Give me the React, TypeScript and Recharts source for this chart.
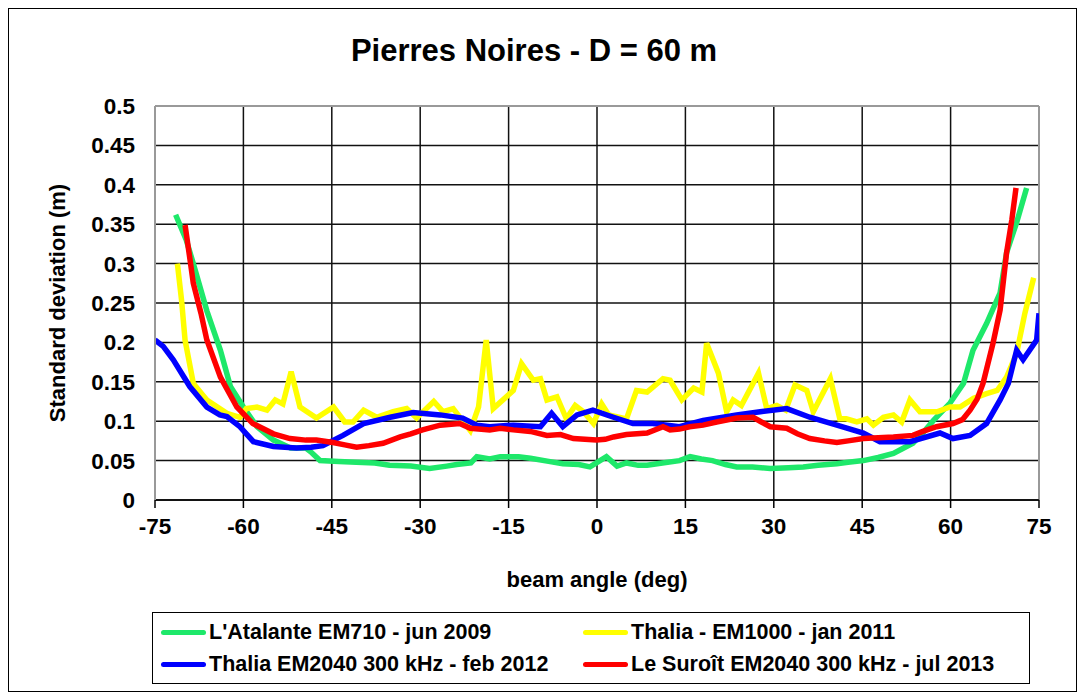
import { LineChart, Line, XAxis, YAxis, CartesianGrid, ReferenceLine, Label } from 'recharts'

// beam angle (deg) / standard deviation (m), one pair of arrays per survey
const atalanteAngle = [-71.5, -69.7, -68.5, -66.2, -63.9, -62.2, -60, -57.7, -54.9, -52, -49.4, -48.4, -47, -43.8, -40.8, -37.7, -35.2, -31.6, -28.4, -25.5, -23.8, -21.4, -20.4, -18.2, -16.4, -13.3, -11.3, -8.2, -5.8, -3.1, -1.2, -0.1, 1.6, 3.4, 5, 7, 8.5, 11.1, 14, 15.8, 17.7, 19.6, 21.8, 23.7, 26.4, 29.4, 32.5, 35, 37.5, 40.7, 42.6, 45.2, 47.7, 50.3, 51.8, 53.6, 55.3, 57.1, 59.9, 62.2, 63.8, 66.1, 68.4, 69.5, 71.2, 72.9]
const atalanteStd = [0.362, 0.33, 0.3, 0.24, 0.19, 0.144, 0.118, 0.093, 0.076, 0.066, 0.066, 0.06, 0.05, 0.049, 0.048, 0.047, 0.044, 0.043, 0.04, 0.043, 0.045, 0.047, 0.055, 0.052, 0.055, 0.055, 0.053, 0.049, 0.046, 0.045, 0.042, 0.047, 0.055, 0.043, 0.047, 0.044, 0.044, 0.047, 0.05, 0.055, 0.052, 0.05, 0.045, 0.042, 0.042, 0.04, 0.041, 0.042, 0.044, 0.046, 0.048, 0.05, 0.054, 0.059, 0.065, 0.072, 0.085, 0.101, 0.123, 0.148, 0.19, 0.224, 0.263, 0.314, 0.352, 0.396]

const thaliaOldAngle = [-71.2, -70.5, -69.9, -68.5, -66.2, -62.8, -60.6, -59.5, -57.7, -56, -54.6, -53.3, -51.9, -50.4, -47.6, -44.7, -42.8, -41.4, -39.6, -37.4, -34.6, -32.3, -30.6, -27.7, -26.1, -24.4, -21.5, -20.1, -18.8, -17.6, -14.2, -12.8, -10.8, -9.6, -8.5, -6.8, -5.2, -3.7, -2.3, -0.6, 0.8, 2, 5, 6.7, 8.5, 11.2, 12.4, 14.4, 16.4, 17.8, 18.6, 20.6, 22, 23.1, 24.5, 27.4, 28.8, 30.5, 32, 33.6, 35.6, 36.7, 39.6, 41.2, 42.3, 44.1, 45.8, 46.9, 48.6, 50.3, 51.7, 53.1, 54.8, 57.7, 59.9, 61.6, 63.9, 66.1, 67.9, 69.5, 71.2, 72.6, 74.1]
const thaliaOldStd = [0.3, 0.254, 0.203, 0.148, 0.127, 0.11, 0.105, 0.116, 0.118, 0.114, 0.127, 0.122, 0.163, 0.118, 0.104, 0.118, 0.099, 0.099, 0.114, 0.105, 0.112, 0.116, 0.104, 0.125, 0.112, 0.116, 0.088, 0.118, 0.203, 0.116, 0.139, 0.173, 0.152, 0.154, 0.127, 0.131, 0.103, 0.12, 0.112, 0.097, 0.122, 0.108, 0.103, 0.139, 0.137, 0.154, 0.152, 0.127, 0.142, 0.137, 0.199, 0.161, 0.112, 0.127, 0.12, 0.161, 0.116, 0.12, 0.114, 0.146, 0.139, 0.112, 0.154, 0.103, 0.103, 0.099, 0.103, 0.095, 0.105, 0.108, 0.099, 0.127, 0.112, 0.112, 0.118, 0.118, 0.129, 0.135, 0.139, 0.156, 0.186, 0.237, 0.282]

const thaliaNewAngle = [-75, -73.6, -71.9, -69.1, -66.2, -64, -62.8, -60.6, -58.3, -54.9, -51, -48.5, -46.5, -43.1, -39.6, -35.1, -31.2, -26.6, -22.8, -20.4, -18.2, -14.2, -9.6, -7.7, -5.8, -3.4, -0.7, 2.8, 6.1, 9.5, 14, 18, 23.7, 27.7, 32.2, 36.1, 40.7, 45.2, 48, 53.1, 58.2, 60.4, 63.3, 66.1, 68.4, 69.8, 71.2, 72.3, 74.6, 75]
const thaliaNewStd = [0.203, 0.195, 0.178, 0.144, 0.118, 0.108, 0.106, 0.093, 0.074, 0.068, 0.066, 0.067, 0.069, 0.082, 0.097, 0.105, 0.111, 0.108, 0.104, 0.095, 0.093, 0.095, 0.093, 0.11, 0.093, 0.108, 0.114, 0.105, 0.097, 0.097, 0.093, 0.101, 0.108, 0.112, 0.116, 0.105, 0.095, 0.085, 0.074, 0.074, 0.085, 0.078, 0.082, 0.097, 0.127, 0.148, 0.19, 0.178, 0.203, 0.237]

const suroitAngle = [-69.9, -69, -68.5, -67.2, -66.2, -63.9, -61.1, -58.4, -54.9, -52.1, -49.4, -47.6, -44.8, -42.8, -40.8, -38.7, -36.3, -33.4, -31.6, -29.6, -26.6, -23.3, -21.5, -18.2, -16.4, -14.2, -11.3, -8.5, -6.2, -4, -0.1, 1.4, 2.8, 5, 8.5, 11.2, 12.4, 14, 15.7, 18, 20.3, 23.7, 26.5, 27.9, 29.4, 32.2, 34, 36.1, 38.6, 40.7, 42.6, 45.2, 47.7, 50.3, 53.6, 55.3, 57.6, 60.4, 62, 63.3, 64.5, 65.5, 67.2, 68.4, 69.5, 70.4, 71.1]
const suroitStd = [0.349, 0.302, 0.275, 0.237, 0.203, 0.156, 0.118, 0.097, 0.084, 0.078, 0.076, 0.076, 0.073, 0.07, 0.067, 0.069, 0.072, 0.08, 0.084, 0.089, 0.095, 0.097, 0.091, 0.089, 0.091, 0.089, 0.087, 0.082, 0.083, 0.078, 0.076, 0.077, 0.08, 0.083, 0.085, 0.093, 0.089, 0.09, 0.093, 0.095, 0.099, 0.104, 0.105, 0.099, 0.093, 0.091, 0.084, 0.078, 0.075, 0.073, 0.075, 0.078, 0.079, 0.08, 0.082, 0.087, 0.093, 0.097, 0.102, 0.114, 0.128, 0.148, 0.199, 0.241, 0.314, 0.356, 0.396]

const xTicks = [-75, -60, -45, -30, -15, 0, 15, 30, 45, 60, 75]
const yTicks = [0, 0.05, 0.1, 0.15, 0.2, 0.25, 0.3, 0.35, 0.4, 0.45, 0.5]

const series = [
  { name: "L'Atalante EM710 - jun 2009", color: '#1ee86a', angle: atalanteAngle, std: atalanteStd },
  { name: 'Thalia - EM1000 - jan 2011', color: '#ffff00', angle: thaliaOldAngle, std: thaliaOldStd },
  { name: 'Thalia EM2040 300 kHz - feb 2012', color: '#0000ff', angle: thaliaNewAngle, std: thaliaNewStd },
  { name: 'Le Suroît EM2040 300 kHz - jul 2013', color: '#ff0000', angle: suroitAngle, std: suroitStd },
]

const font = '"Liberation Sans", Arial, sans-serif'

function LegendBox() {
  return (
    <div
      style={{
        position: 'absolute',
        left: 143,
        top: 603,
        width: 876,
        height: 70,
        border: '1px solid #000',
        display: 'grid',
        gridTemplateColumns: '422px 1fr',
        gridTemplateRows: '32px 32px',
        alignContent: 'center',
        fontFamily: font,
        fontWeight: 'bold',
        fontSize: 21.5,
        background: '#fff',
      }}
    >
      {series.map((s) => (
        <div key={s.name} style={{ display: 'flex', alignItems: 'center', paddingLeft: 8, whiteSpace: 'nowrap' }}>
          <span style={{ display: 'inline-block', width: 45, height: 5, borderRadius: 3, background: s.color, marginRight: 3 }} />
          {s.name}
        </div>
      ))}
    </div>
  )
}

export default function App() {
  return (
    <div style={{ position: 'relative', width: 1067, height: 682, border: '1px solid #000', background: '#fff', fontFamily: font }}>
      <div
        style={{
          position: 'absolute',
          left: 0,
          width: 1050,
          top: 24,
          textAlign: 'center',
          fontSize: 31,
          fontWeight: 'bold',
        }}
      >
        Pierres Noires - D = 60 m
      </div>
      <LineChart width={1067} height={682} margin={{ top: 97, right: 37, left: 66, bottom: 91 }}>
        <CartesianGrid stroke="#111" strokeWidth={1.5} />
        <XAxis
          type="number"
          dataKey="x"
          domain={[-75, 75]}
          ticks={xTicks}
          interval={0}
          allowDataOverflow
          stroke="#000"
          strokeWidth={1.5}
          tickSize={8}
          tickMargin={10}
          height={100}
          tick={{ fontSize: 22.5, fontWeight: 'bold', fill: '#000', fontFamily: font }}
        >
          <Label
            value="beam angle (deg)"
            position="insideBottom"
            offset={13}
            style={{ fontSize: 22, fontWeight: 'bold', fill: '#000', fontFamily: font }}
          />
        </XAxis>
        <YAxis
          type="number"
          dataKey="y"
          domain={[0, 0.5]}
          ticks={yTicks}
          interval={0}
          allowDataOverflow
          stroke="#999"
          strokeWidth={2}
          tickLine={false}
          tickSize={0}
          tickMargin={20}
          width={80}
          tick={{ fontSize: 22.5, fontWeight: 'bold', fill: '#000', fontFamily: font }}
        >
          <Label
            value="Standard deviation (m)"
            angle={-90}
            position="insideLeft"
            offset={-18}
            style={{ fontSize: 22, fontWeight: 'bold', fill: '#000', fontFamily: font, textAnchor: 'middle' }}
          />
        </YAxis>
        <ReferenceLine y={0.5} stroke="#999" strokeWidth={2} />
        <ReferenceLine x={75} stroke="#999" strokeWidth={2} />
        {series.map((s) => (
          <Line
            key={s.name}
            data={s.angle.map((a, i) => ({ x: a, y: s.std[i] }))}
            dataKey="y"
            name={s.name}
            type="linear"
            stroke={s.color}
            strokeWidth={5.5}
            dot={false}
            activeDot={false}
            isAnimationActive={false}
          />
        ))}
      </LineChart>
      <LegendBox />
    </div>
  )
}
